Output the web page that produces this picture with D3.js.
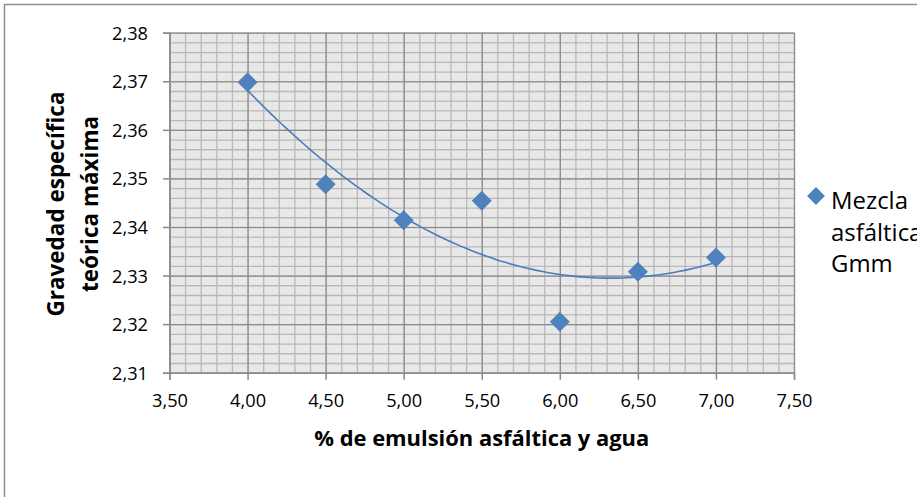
<!DOCTYPE html>
<html>
<head>
<meta charset="utf-8">
<script src="https://cdn.jsdelivr.net/npm/d3@7"></script>
<style>
  html, body { margin: 0; padding: 0; background: #fff; }
  svg { display: block; font-family: "Open Sans", "Noto Sans", sans-serif; }
</style>
</head>
<body>
<svg id="chart" width="917" height="497"></svg>
<script>
// values
var pctEmulsion = [4.00, 4.50, 5.00, 5.50, 6.00, 6.50, 7.00];
var gmmValues = [2.3698, 2.3488, 2.3414, 2.3454, 2.3205, 2.3308, 2.3337];
var xTicks = [3.50, 4.00, 4.50, 5.00, 5.50, 6.00, 6.50, 7.00, 7.50];
var yTicks = [2.31, 2.32, 2.33, 2.34, 2.35, 2.36, 2.37, 2.38];
var xTitle = "% de emulsión asfáltica y agua";
var yTitleLines = ["Gravedad específica", "teórica máxima"];
var legendLines = ["Mezcla", "asfáltica", "Gmm"];

var blue = "#4f81bd";
var locale = d3.formatLocale({decimal: ",", thousands: ".", grouping: [3], currency: ["", ""]});
var fmt = locale.format(".2f");

var svg = d3.select("#chart");
var plot = {left: 169.5, right: 794, top: 32.7, bottom: 372.7};

var x = d3.scaleLinear().domain([3.5, 7.5]).range([plot.left, plot.right]);
var y = d3.scaleLinear().domain([2.31, 2.38]).range([plot.bottom, plot.top]);

// font sizes get fitted to the widths measured on the reference
function fitFont(sel, target) {
    var w = sel.node().getComputedTextLength();
    var fs = parseFloat(sel.attr("font-size"));
    sel.attr("font-size", (fs * target / w).toFixed(2));
}

// chart frame (runs off the right/bottom edge)
svg.append("rect")
    .attr("x", 4.5).attr("y", 4.5)
    .attr("width", 1000).attr("height", 1000)
    .attr("fill", "#fff")
    .attr("stroke", "#8e8e8e")
    .attr("stroke-width", 1.5);

// plot background
svg.append("rect")
    .attr("x", plot.left).attr("y", plot.top)
    .attr("width", plot.right - plot.left)
    .attr("height", plot.bottom - plot.top)
    .attr("fill", "#e8e8e8");

// minor grid
var g = svg.append("g");
g.append("g")
    .attr("transform", "translate(0," + plot.bottom + ")")
    .call(d3.axisBottom(x).ticks(40).tickSize(-(plot.bottom - plot.top)).tickFormat(""))
    .call(a => a.select(".domain").remove())
    .call(a => a.selectAll("line").attr("stroke", "#b9b9b9").attr("stroke-width", 1.3));
g.append("g")
    .attr("transform", "translate(" + plot.left + ",0)")
    .call(d3.axisLeft(y).tickValues(d3.range(0, 36).map(i => 2.31 + i * 0.002)).tickSize(-(plot.right - plot.left)).tickFormat(""))
    .call(a => a.select(".domain").remove())
    .call(a => a.selectAll("line").attr("stroke", "#b9b9b9").attr("stroke-width", 1.3));

// major grid
g.append("g")
    .attr("transform", "translate(0," + plot.bottom + ")")
    .call(d3.axisBottom(x).tickValues(xTicks).tickSize(-(plot.bottom - plot.top)).tickFormat(""))
    .call(a => a.select(".domain").remove())
    .call(a => a.selectAll("line").attr("stroke", "#8a8a8a").attr("stroke-width", 1.2));
g.append("g")
    .attr("transform", "translate(" + plot.left + ",0)")
    .call(d3.axisLeft(y).tickValues(yTicks).tickSize(-(plot.right - plot.left)).tickFormat(""))
    .call(a => a.select(".domain").remove())
    .call(a => a.selectAll("line").attr("stroke", "#8a8a8a").attr("stroke-width", 1.2));

// axes with outside ticks
var xAxis = svg.append("g")
    .attr("transform", "translate(0," + plot.bottom + ")")
    .call(d3.axisBottom(x).tickValues(xTicks).tickSize(7).tickPadding(10).tickFormat(fmt));
var yAxis = svg.append("g")
    .attr("transform", "translate(" + plot.left + ",0)")
    .call(d3.axisLeft(y).tickValues(yTicks).tickSize(6.5).tickPadding(15).tickFormat(fmt));
[xAxis, yAxis].forEach(a => {
    a.select(".domain").attr("stroke", "#8a8a8a").attr("stroke-width", 1.5);
    a.selectAll(".tick line").attr("stroke", "#8a8a8a").attr("stroke-width", 1.5);
    a.selectAll("text").attr("fill", "#000").attr("font-family", "Open Sans").attr("font-size", 17);
});
xAxis.selectAll("text").attr("dy", null).attr("y", null)
    .attr("transform", "translate(0,34)");
yAxis.selectAll("text").attr("dy", "0.36em");
fitFont(xAxis.select(".tick text"), 36);
var tickFs = xAxis.select(".tick text").attr("font-size");
xAxis.selectAll("text").attr("font-size", tickFs);
yAxis.selectAll("text").attr("font-size", tickFs);

// polynomial (2nd order) trendline, least squares on the points
function polyFit(xs, ys) {
    var n = xs.length, s = [0, 0, 0, 0, 0], t = [0, 0, 0];
    for (var i = 0; i < n; i++) {
        for (var k = 0; k < 5; k++) s[k] += Math.pow(xs[i], k);
        for (var k = 0; k < 3; k++) t[k] += ys[i] * Math.pow(xs[i], k);
    }
    var M = [[s[0], s[1], s[2], t[0]], [s[1], s[2], s[3], t[1]], [s[2], s[3], s[4], t[2]]];
    for (var c = 0; c < 3; c++) {
        for (var r = c + 1; r < 3; r++) {
            var f = M[r][c] / M[c][c];
            for (var k = c; k < 4; k++) M[r][k] -= f * M[c][k];
        }
    }
    var b = [0, 0, 0];
    for (var r = 2; r >= 0; r--) {
        var v = M[r][3];
        for (var k = r + 1; k < 3; k++) v -= M[r][k] * b[k];
        b[r] = v / M[r][r];
    }
    return b;
}
var coef = polyFit(pctEmulsion, gmmValues);
var xmin = d3.min(pctEmulsion), xmax = d3.max(pctEmulsion);
var trend = d3.range(0, 101).map(i => {
    var xv = xmin + (xmax - xmin) * i / 100;
    return [xv, coef[0] + coef[1] * xv + coef[2] * xv * xv];
});
svg.append("path")
    .datum(trend)
    .attr("fill", "none")
    .attr("stroke", "#4a7ebb")
    .attr("stroke-width", 1.6)
    .attr("d", d3.line().x(d => x(d[0])).y(d => y(d[1])));

// markers
var diamond = d3.symbol().type(d3.symbolSquare).size(200);
svg.append("g").selectAll("path")
    .data(pctEmulsion.map((v, i) => [v, gmmValues[i]]))
    .enter().append("path")
    .attr("d", diamond)
    .attr("transform", d => "translate(" + x(d[0]) + "," + y(d[1]) + ") rotate(45)")
    .attr("fill", blue);

// x title
var xt = svg.append("text")
    .attr("x", (plot.left + plot.right) / 2)
    .attr("y", 446)
    .attr("text-anchor", "middle")
    .attr("font-weight", "bold")
    .attr("font-size", 22)
    .text(xTitle);
fitFont(xt, 335);

// y title, two lines rotated
var ytFs;
yTitleLines.forEach((line, i) => {
    var t = svg.append("text")
        .attr("transform", "translate(" + (64 + i * 34) + ",204) rotate(-90)")
        .attr("text-anchor", "middle")
        .attr("font-weight", "bold")
        .attr("font-size", 22)
        .text(line);
    if (i == 0) {
        fitFont(t, 225);
        ytFs = t.attr("font-size");
    } else {
        t.attr("font-size", ytFs);
    }
});

// legend
var lg = svg.append("g");
lg.append("path")
    .attr("d", d3.symbol().type(d3.symbolSquare).size(160))
    .attr("transform", "translate(816,196) rotate(45)")
    .attr("fill", blue);
var lgFs;
legendLines.forEach((line, i) => {
    var t = lg.append("text")
        .attr("x", 831)
        .attr("y", 209 + i * 31.5)
        .attr("font-size", 22)
        .text(line);
    if (i == 0) {
        fitFont(t, 77);
        lgFs = t.attr("font-size");
    } else {
        t.attr("font-size", lgFs);
    }
});
</script>
</body>
</html>
